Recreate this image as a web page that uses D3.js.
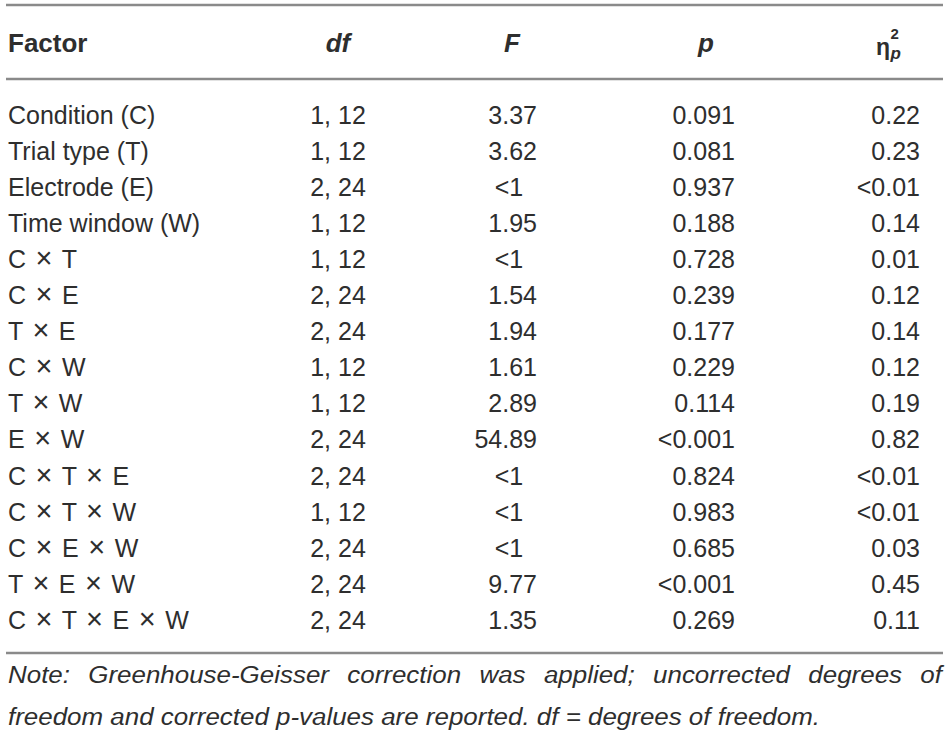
<!DOCTYPE html>
<html>
<head>
<meta charset="utf-8">
<script src="https://cdn.jsdelivr.net/npm/d3@7/dist/d3.min.js"></script>
<style>
  html, body { margin: 0; padding: 0; background: #fff; }
  svg { display: block; }
</style>
</head>
<body>
<svg id="chart" width="950" height="738"></svg>
<script>
// ---- data ----
const factors = ["Condition (C)", "Trial type (T)", "Electrode (E)", "Time window (W)",
  "C \u00d7 T", "C \u00d7 E", "T \u00d7 E", "C \u00d7 W", "T \u00d7 W", "E \u00d7 W",
  "C \u00d7 T \u00d7 E", "C \u00d7 T \u00d7 W", "C \u00d7 E \u00d7 W", "T \u00d7 E \u00d7 W",
  "C \u00d7 T \u00d7 E \u00d7 W"];
const dfValues = ["1, 12", "1, 12", "2, 24", "1, 12", "1, 12", "2, 24", "2, 24", "1, 12",
  "1, 12", "2, 24", "2, 24", "1, 12", "2, 24", "2, 24", "2, 24"];
const fValues = ["3.37", "3.62", "<1", "1.95", "<1", "1.54", "1.94", "1.61", "2.89", "54.89",
  "<1", "<1", "<1", "9.77", "1.35"];
const pValues = ["0.091", "0.081", "0.937", "0.188", "0.728", "0.239", "0.177", "0.229",
  "0.114", "<0.001", "0.824", "0.983", "0.685", "<0.001", "0.269"];
const etaValues = ["0.22", "0.23", "<0.01", "0.14", "0.01", "0.12", "0.14", "0.12", "0.19",
  "0.82", "<0.01", "<0.01", "0.03", "0.45", "0.11"];
const noteLine1 = "Note: Greenhouse-Geisser correction was applied; uncorrected degrees of";
const noteLine2 = "freedom and corrected p-values are reported. df = degrees of freedom.";

// ---- drawing ----
const svg = d3.select("#chart");
const FONT = "'Liberation Sans', Arial, Helvetica, sans-serif";
const TEXT = "#2e2e2e";
const RULE = "#8a8a8a";

const y = d3.scalePoint().domain(d3.range(factors.length)).range([123.5, 629]);

// rules
const rules = [5, 79, 653];
svg.selectAll("line.rule").data(rules).enter().append("line")
  .attr("class", "rule")
  .attr("x1", 6).attr("x2", 943)
  .attr("y1", d => d).attr("y2", d => d)
  .attr("stroke", RULE).attr("stroke-width", 2.6);

// header
const hdr = svg.append("g").attr("font-family", FONT).attr("fill", TEXT)
  .attr("font-weight", "bold").attr("font-size", 26);
hdr.append("text").attr("x", 8).attr("y", 52).text("Factor");
hdr.append("text").attr("x", 338).attr("y", 52).attr("text-anchor", "middle")
  .attr("font-style", "italic").text("df");
hdr.append("text").attr("x", 512).attr("y", 52).attr("text-anchor", "middle")
  .attr("font-style", "italic").text("F");
hdr.append("text").attr("x", 706).attr("y", 52).attr("text-anchor", "middle")
  .attr("font-style", "italic").text("p");
const eta = hdr.append("text").attr("x", 876).attr("y", 55).attr("font-size", 23).text("\u03b7");
const etaW = eta.node().getComputedTextLength();
hdr.append("text").attr("x", 876 + etaW + 0.5).attr("y", 39).attr("font-size", 15).text("2");
hdr.append("text").attr("x", 876 + etaW + 0.5).attr("y", 59).attr("font-size", 17)
  .attr("font-style", "italic").text("p");

// body rows
const rows = svg.append("g").attr("font-family", FONT).attr("fill", TEXT).attr("font-size", 25);
const idx = d3.range(factors.length);

const factorText = rows.selectAll("text.factor").data(idx).enter().append("text")
  .attr("class", "factor").attr("x", 8).attr("y", i => y(i))
  .style("word-spacing", i => factors[i].includes("\u00d7") ? "2.6px" : null);
factorText.each(function(i) {
  const t = d3.select(this);
  const parts = factors[i].split("\u00d7");
  parts.forEach((part, j) => {
    t.append("tspan").text(part);
    if (j < parts.length - 1) t.append("tspan").attr("font-size", 29).text("\u00d7");
  });
});

rows.selectAll("text.df").data(idx).enter().append("text")
  .attr("class", "df").attr("x", 338).attr("y", i => y(i))
  .attr("text-anchor", "middle").text(i => dfValues[i]);

rows.selectAll("text.f").data(idx).enter().append("text")
  .attr("class", "f")
  .attr("x", i => fValues[i].startsWith("<") ? 509 : 537)
  .attr("y", i => y(i))
  .attr("text-anchor", i => fValues[i].startsWith("<") ? "middle" : "end")
  .text(i => fValues[i]);

rows.selectAll("text.p").data(idx).enter().append("text")
  .attr("class", "p").attr("x", 735).attr("y", i => y(i))
  .attr("text-anchor", "end").text(i => pValues[i]);

rows.selectAll("text.eta").data(idx).enter().append("text")
  .attr("class", "eta").attr("x", 920).attr("y", i => y(i))
  .attr("text-anchor", "end").text(i => etaValues[i]);

// note
const note = svg.append("g").attr("font-family", FONT).attr("fill", TEXT)
  .attr("font-size", 23).attr("font-style", "italic");

// second line: stretch to reference width, derive horizontal factor
const l2 = note.append("text").attr("x", 8).attr("y", 725).text(noteLine2);
const w2 = l2.node().getComputedTextLength();
const target2 = 812;
const k = target2 / w2;
l2.attr("textLength", target2).attr("lengthAdjust", "spacingAndGlyphs");

// first line: words widened by k, then justified between margins
function justify(line, yPos, x0, x1) {
  const words = line.split(" ");
  const nodes = words.map(w => note.append("text").attr("y", yPos).text(w));
  const widths = nodes.map(n => n.node().getComputedTextLength() * k);
  nodes.forEach((n, i) => n.attr("textLength", widths[i]).attr("lengthAdjust", "spacingAndGlyphs"));
  const total = d3.sum(widths);
  const gap = (x1 - x0 - total) / (words.length - 1);
  let x = x0;
  nodes.forEach((n, i) => { n.attr("x", x); x += widths[i] + gap; });
}
justify(noteLine1, 683, 8, 942);
</script>
</body>
</html>
